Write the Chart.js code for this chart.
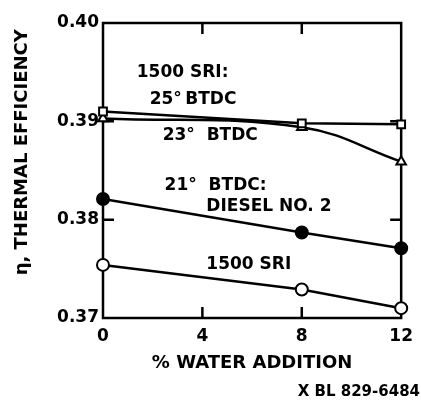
<!DOCTYPE html>
<html>
<head>
<meta charset="utf-8">
<script src="https://cdn.jsdelivr.net/npm/chart.js@4"></script>
<style>
  html, body { margin: 0; padding: 0; background: #fff; }
  #wrap { width: 421px; height: 410px; }
</style>
</head>
<body>
<div id="wrap"><canvas id="effChart" width="421" height="410"></canvas></div>
<script>
// % water addition
var waterPct = [0, 8, 12];
// thermal efficiency
var sri25Btdc = [0.3910, 0.3898, 0.3897];   // squares
var sri23Btdc = [0.3903, 0.3894, 0.3859];   // triangles
var diesel21 = [0.3821, 0.3787, 0.3771];    // filled circles
var sri1500 = [0.3754, 0.3729, 0.3710];     // open circles
var xTicks = [0, 4, 8, 12];
var yTicks = [0.37, 0.38, 0.39, 0.40];

// text labels inside the plot: [text, x, y] in data units
var notes = [
  ["1500 SRI:", 1.36, 0.3950],
  ["25°\u2009BTDC", 1.88, 0.3922],
  ["23°  BTDC", 2.40, 0.3886],
  ["21°  BTDC:", 2.48, 0.3835],
  ["DIESEL NO. 2", 4.16, 0.3813],
  ["1500 SRI", 4.16, 0.3754]
];

function pts(vals) {
  var out = [];
  for (var i = 0; i < vals.length; i++) out.push({x: waterPct[i], y: vals[i]});
  return out;
}

var FONT = "'DejaVu Sans', sans-serif";

var framePlugin = {
  id: 'frame',
  beforeDatasetsDraw: function(chart) {
    var c = chart.ctx, a = chart.chartArea;
    var xs = chart.scales.x, ys = chart.scales.y;
    var tl = 11;
    c.save();
    c.strokeStyle = '#000';
    c.lineWidth = 2.5;
    c.strokeRect(a.left, a.top, a.right - a.left, a.bottom - a.top);
    c.beginPath();
    for (var i = 1; i < xTicks.length - 1; i++) {
      var px = xs.getPixelForValue(xTicks[i]);
      c.moveTo(px, a.bottom); c.lineTo(px, a.bottom - tl);
      c.moveTo(px, a.top); c.lineTo(px, a.top + tl);
    }
    for (var j = 1; j < yTicks.length - 1; j++) {
      var py = ys.getPixelForValue(yTicks[j]);
      c.moveTo(a.left, py); c.lineTo(a.left + tl, py);
      c.moveTo(a.right, py); c.lineTo(a.right - tl, py);
    }
    c.stroke();
    c.restore();
  },
  afterDraw: function(chart) {
    var c = chart.ctx;
    var xs = chart.scales.x, ys = chart.scales.y;
    c.save();
    c.fillStyle = '#000';
    c.font = 'bold 17px ' + FONT;
    c.textBaseline = 'middle';
    c.textAlign = 'left';
    for (var k = 0; k < notes.length; k++) {
      c.fillText(notes[k][0], xs.getPixelForValue(notes[k][1]), ys.getPixelForValue(notes[k][2]));
    }
    c.font = 'bold 15px ' + FONT;
    c.textAlign = 'right';
    c.fillText('X BL 829-6484', 420, 392);
    c.restore();
  }
};

function series(label, vals, style, fill, radius, tension) {
  return {
    label: label,
    data: pts(vals),
    borderColor: '#000',
    borderWidth: 2.5,
    pointStyle: style,
    pointRadius: radius,
    pointBackgroundColor: fill,
    pointBorderColor: '#000',
    pointBorderWidth: 2,
    tension: tension,
    clip: false,
    fill: false
  };
}

var ctx = document.getElementById("effChart");
var effChart = new Chart(ctx, {
  type: 'line',
  data: {
    datasets: [
      series('1500 SRI: 25° BTDC', sri25Btdc, 'rect', '#fff', 5.5, 0),
      series('23° BTDC', sri23Btdc, 'triangle', '#fff', 5.5, 0.4),
      series('21° BTDC: Diesel No. 2', diesel21, 'circle', '#000', 6, 0),
      series('1500 SRI', sri1500, 'circle', '#fff', 6, 0)
    ]
  },
  options: {
    responsive: false,
    animation: false,
    layout: { padding: { top: 23, right: 18, bottom: 0, left: 0 } },
    plugins: {
      legend: { display: false },
      tooltip: { enabled: false }
    },
    scales: {
      x: {
        type: 'linear',
        min: 0,
        max: 12,
        afterFit: function(s) { s.height = 92; },
        afterBuildTicks: function(s) { s.ticks = xTicks.map(function(v) { return {value: v}; }); },
        grid: { display: false, drawTicks: false },
        border: { display: false },
        ticks: { color: '#000', padding: 8, font: { family: FONT, size: 17, weight: 'bold' } },
        title: {
          display: true,
          text: '% WATER ADDITION',
          color: '#000',
          font: { family: FONT, size: 18, weight: 'bold' },
          padding: { top: 0, bottom: 36 }
        }
      },
      y: {
        min: 0.37,
        max: 0.40,
        afterFit: function(s) { s.width = 103; },
        afterBuildTicks: function(s) { s.ticks = yTicks.map(function(v) { return {value: v}; }); },
        grid: { display: false, drawTicks: false },
        border: { display: false },
        ticks: {
          color: '#000',
          padding: 4,
          font: { family: FONT, size: 17, weight: 'bold' },
          callback: function(value) { return value.toFixed(2); }
        },
        title: {
          display: true,
          text: 'η, THERMAL EFFICIENCY ',
          align: 'end',
          color: '#000',
          font: { family: FONT, size: 18, weight: 'bold' },
          padding: { top: 12, bottom: 0 }
        }
      }
    }
  },
  plugins: [framePlugin]
});
</script>
</body>
</html>
